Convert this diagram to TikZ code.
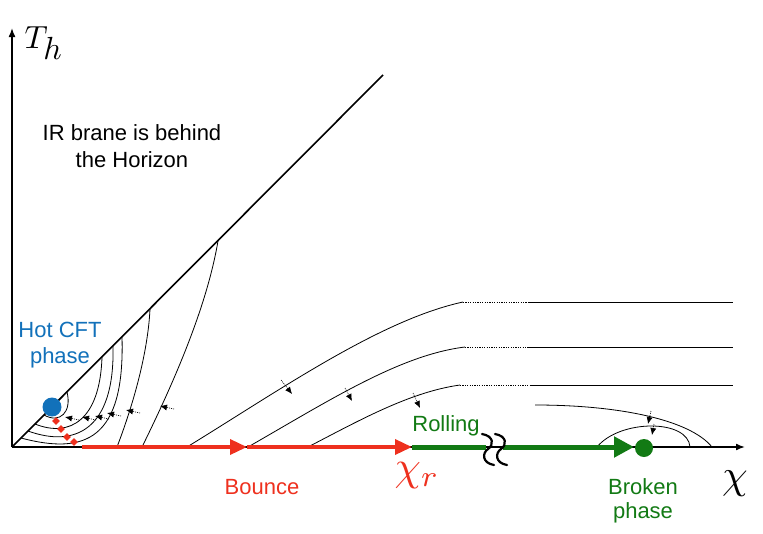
\documentclass[tikz,border=0pt]{standalone}
\usepackage{fontspec}
\setmainfont{Liberation Sans}
\usetikzlibrary{arrows.meta,shapes.geometric}
\definecolor{cblue}{RGB}{18,113,186}
\definecolor{cred}{RGB}{238,48,30}
\definecolor{cgreen}{RGB}{18,122,20}
\begin{document}
\begin{tikzpicture}[x=1pt,y=-1pt,
  lbl/.style={font=\fontsize{22}{26}\selectfont, inner sep=0pt, anchor=base},
  flow/.style={line width=0.8pt},
  axisline/.style={line width=1.6pt,-{Latex[length=9pt,width=7pt]}},
  fa/.style={line width=0.6pt, dash pattern=on 1pt off 1pt, -{Latex[length=7pt,width=6pt]}},
  rdot/.style={diamond, fill=cred, inner sep=0pt, minimum size=8pt},
  redline/.style={line width=3.5pt, cred},
  greenline/.style={line width=5pt, cgreen},
  wave/.style={line width=2.2pt, line cap=round}
]
\useasboundingbox (0,0) rectangle (763,533);

% axes and diagonal
\coordinate (O) at (12,447);
\coordinate (Ytop) at (12,28);
\coordinate (Xend) at (745,447);
\coordinate (D) at (383,75);
\draw[line width=1.6pt] (O) -- (D);
\draw[axisline] (O) -- (Ytop);
\draw[axisline] (O) -- (Xend);

% nested arcs around the hot CFT point
\draw[flow] (44,415) .. controls (60,424) and (72,412) .. (67,392);
\draw[flow] (35,424) .. controls (70,438) and (100,420) .. (102,357);
\draw[flow] (28,431) .. controls (75,448) and (115,430) .. (113,346);
\draw[flow] (21,438) .. controls (85,455) and (125,440) .. (122,337);
\draw[flow] (117,447) .. controls (135,400) and (148,350) .. (150,309);
\draw[flow] (142,447) .. controls (180,370) and (208,300) .. (218,241);

% flow arrows (left)
\foreach \x/\y in {65/417,82/417,95/416,107/413,126/410,160/406}
  \draw[fa] (\x+14,\y+3) -- (\x,\y);

% bounce curves
\draw[flow] (187,447) .. controls (280,390) and (380,320) .. (463,302);
\draw[flow, dash pattern=on 1.2pt off 1.2pt] (463,302) -- (528,302);
\draw[flow] (528,302) -- (733,302);
\draw[flow] (248,447) .. controls (330,400) and (400,355) .. (465,347);
\draw[flow, dash pattern=on 1.2pt off 1.2pt] (465,347) -- (528,347);
\draw[flow] (528,347) -- (733,347);
\draw[flow] (308,447) .. controls (360,420) and (410,392) .. (460,385);
\draw[flow, dash pattern=on 1.2pt off 1.2pt] (460,385) -- (530,385);
\draw[flow] (530,385) -- (733,385);
\draw[fa] (281,380) -- (292,394);
\draw[fa] (345,388) -- (352,401);
\draw[fa] (413,393) -- (420,408);

% curves near the broken phase
\draw[flow] (535,405) .. controls (620,405) and (690,420) .. (712,447);
\draw[flow] (597,447) .. controls (620,419) and (688,419) .. (690,447);
\draw[fa] (651,411) -- (648,424);
\draw[fa] (654,424) -- (652,435);

% red bounce path
\node[rdot] (d1) at (56,421) {};
\node[rdot] (d2) at (61,429) {};
\node[rdot] (d3) at (67,437) {};
\node[rdot] (d4) at (74,442) {};
\coordinate (r0) at (82,447);
\coordinate (rm) at (247,447);
\coordinate (chir) at (412,447);
\draw[redline, -{Triangle[length=17pt,width=15pt]}] (r0) -- (rm);
\draw[redline, -{Triangle[length=17pt,width=15pt]}] (rm) -- (chir);

% green rolling path
\coordinate (g1) at (486,447);
\coordinate (g2) at (503,447);
\coordinate (gt) at (634,447);
\draw[greenline] (chir) -- (g1);
\draw[greenline, -{Triangle[length=20pt,width=20pt]}] (g2) -- (gt);
\draw[wave] (482,434) .. controls (494,436) and (494,445) .. (488,449) .. controls (482,453) and (482,463) .. (494,465);
\draw[wave] (495,434) .. controls (507,436) and (507,445) .. (501,449) .. controls (495,453) and (495,463) .. (507,465);

% points
\node[circle, fill=cblue, minimum size=19pt, inner sep=0pt] (hot) at (52,407) {};
\node[circle, fill=cgreen, minimum size=18pt, inner sep=0pt] (brk) at (644,448) {};

% labels
\node[inner sep=0pt, anchor=base] (Th) at (44,48) {\scalebox{3.2}{$T_{\textstyle h}$}};
\node[lbl] (ir1) at (132,140) {IR brane is behind};
\node[lbl] (ir2) at (132,167) {the Horizon};
\node[lbl, text=cblue] (hot1) at (60,337) {Hot CFT};
\node[lbl, text=cblue] (hot2) at (60,363) {phase};
\node[lbl, text=cgreen] (roll) at (446,431) {Rolling};
\node[lbl, text=cred] (bounce) at (262,494) {Bounce};
\node[lbl, text=cgreen] (brk1) at (643,494) {Broken};
\node[lbl, text=cgreen] (brk2) at (643,518) {phase};
\node[inner sep=0pt, anchor=base, text=cred] (chirl) at (417,480) {\scalebox{4.2}{$\chi_r$}};
\node[inner sep=0pt, anchor=base] (chi) at (735,488) {\scalebox{4.1}{$\chi$}};
\end{tikzpicture}
\end{document}
